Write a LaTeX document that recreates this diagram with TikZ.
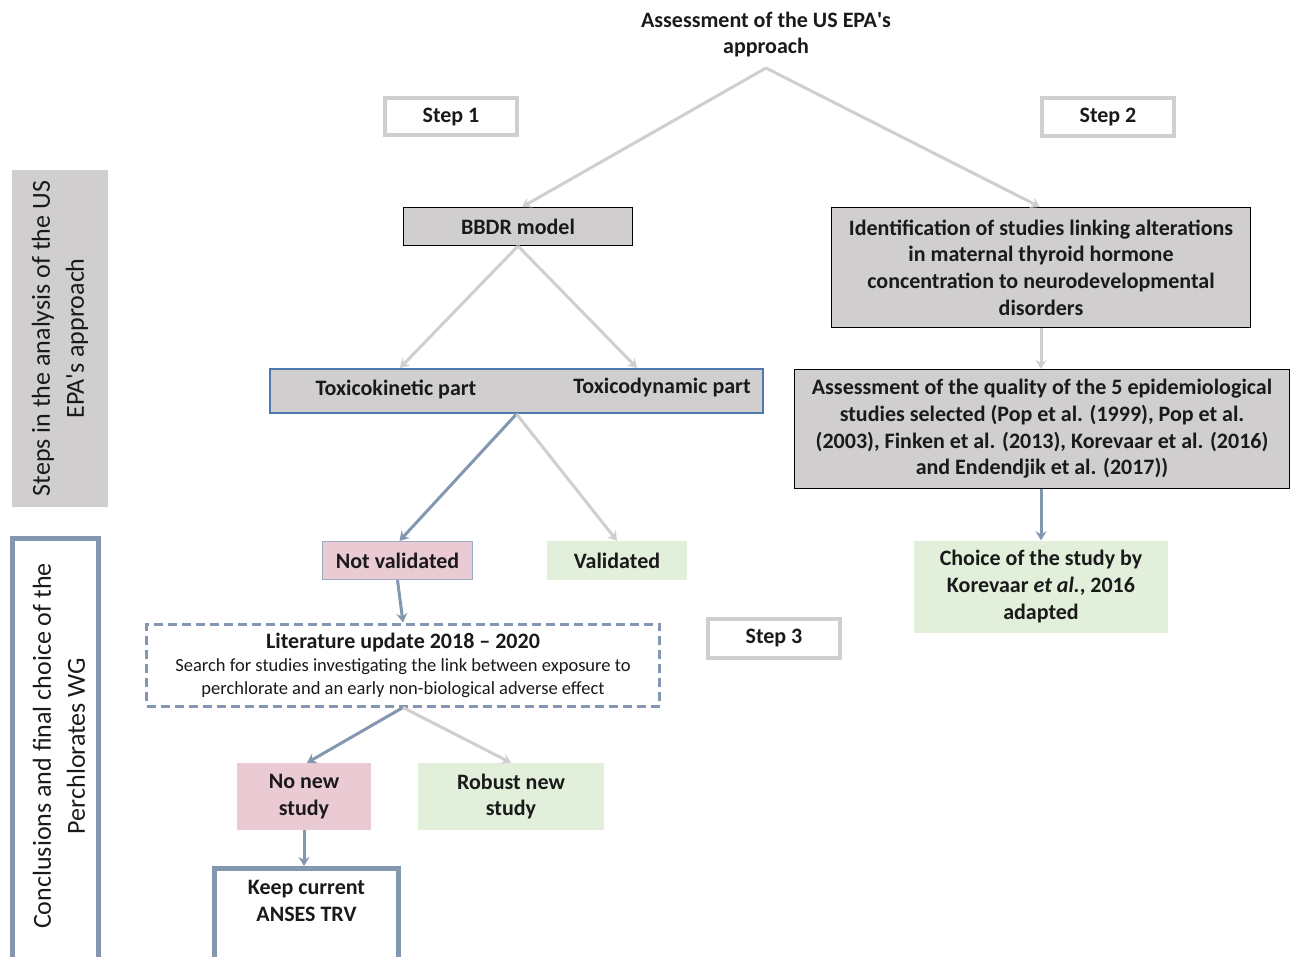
\documentclass[tikz,border=0pt]{standalone}
\usepackage{fontspec}
\setmainfont{Carlito}
\usetikzlibrary{arrows.meta,calc}
\definecolor{lgray}{HTML}{D0CECE}
\definecolor{bgray}{HTML}{8497B0}
\definecolor{tblue}{HTML}{4F79AD}
\definecolor{pinkf}{HTML}{EBCBD3}
\definecolor{greenf}{HTML}{E2EFDA}
\definecolor{txt}{HTML}{1A1A1A}
\newcommand{\smalltxt}{\fontsize{18.5}{23}\selectfont\mdseries}
\newcommand{\apos}{\textquotesingle}
\tikzset{
  base/.style={inner sep=0pt, align=center, text=txt, font=\fontsize{22}{26.6}\selectfont\bfseries},
  stepbox/.style={base, draw=lgray, line width=4pt, fill=white},
  graybox/.style={base, draw=black, line width=1pt, fill=lgray},
  pinkbox/.style={base, fill=pinkf},
  greenbox/.style={base, fill=greenf},
  garrow/.style={draw=lgray, line width=3pt, -{Stealth[length=9pt,width=11pt,inset=3pt]}},
  barrow/.style={draw=bgray, line width=3pt, -{Stealth[length=9pt,width=11pt,inset=3pt]}},
  sidetext/.style={inner sep=0pt, align=center, text=txt, font=\fontsize{26}{34}\selectfont},
}
\begin{document}
\begin{tikzpicture}[x=1pt,y=-1pt]
\useasboundingbox (0,0) rectangle (1296,957);
\clip (0,0) rectangle (1296,957);
% title
\node[base] (title) at (766,34.5) {Assessment of the US EPA\apos s\\approach};
\coordinate (apex) at (766,68);
% step labels
\node[stepbox, minimum width=132pt, minimum height=37pt] (step1) at (451,117) {Step 1};
\node[stepbox, minimum width=132pt, minimum height=38pt] (step2) at (1108,117.5) {Step 2};
\node[stepbox, minimum width=132pt, minimum height=39pt] (step3) at (774,638) {Step 3};
% side panels
\node[sidetext, rotate=90, fill=lgray, minimum width=337pt, minimum height=96pt] (sideA) at (60,338.5) {Steps in the analysis of the US\\EPA\apos s approach};
\draw[draw=bgray, line width=5pt] (12.5,538.5) rectangle (98.5,1000);
\node[sidetext, rotate=90] (sideB) at (59,746) {Conclusions and final choice of the\\Perchlorates WG};
% main boxes
\node[graybox, minimum width=229pt, minimum height=38pt] (bbdr) at (518,226.5) {BBDR model};
\node[graybox, minimum width=419pt, minimum height=120pt] (ident) at (1041,267.5) {Identification of studies linking alterations\\in maternal thyroid hormone\\concentration to neurodevelopmental\\disorders};
\node[graybox, draw=tblue, line width=2pt, minimum width=493pt, minimum height=44pt] (tox) at (516.5,391) {};
\node[base] (tk) at (396,389) {Toxicokinetic part};
\node[base] (td) at (662,388) {Toxicodynamic part};
\node[graybox, minimum width=495pt, minimum height=119pt] (assess) at (1042,429) {Assessment of the quality of the 5 epidemiological\\studies selected (Pop et al. (1999), Pop et al.\\(2003), Finken et al. (2013), Korevaar et al. (2016)\\and Endendjik et al. (2017))};
\node[pinkbox, draw=bgray!80, line width=1.2pt, minimum width=150pt, minimum height=38pt] (notval) at (397.5,560.5) {Not validated};
\node[greenbox, minimum width=140pt, minimum height=39pt] (val) at (617,560.5) {Validated};
\node[greenbox, minimum width=254pt, minimum height=92pt] (choice) at (1041,586.5) {Choice of the study by\\Korevaar \textit{et al.}, 2016\\adapted};
\node[base, draw=bgray, line width=3pt, dash pattern=on 9pt off 5pt, fill=white, minimum width=513pt, minimum height=82pt] (lit) at (403,665)
  {Literature update 2018 -- 2020\\[-3pt]\smalltxt Search for studies investigating the link between exposure to\\[-4pt]\smalltxt perchlorate and an early non-biological adverse effect};
\node[pinkbox, minimum width=134pt, minimum height=67pt] (nonew) at (304,796.5) {No new\\study};
\node[greenbox, minimum width=186pt, minimum height=67pt] (robust) at (511,796.5) {Robust new\\study};
\node[base, draw=bgray, line width=5pt, anchor=north, inner xsep=2pt, inner ysep=12pt] (keep) at (306.5,866)
  {\parbox[t][110pt][t]{180pt}{\centering Keep current\\ANSES TRV}};
% connectors
\draw[garrow] (apex) -- ([xshift=4pt]bbdr.north);
\draw[garrow] (apex) -- ([xshift=-1pt]ident.north);
\draw[garrow] (bbdr.south) -- ([xshift=-116.5pt]tox.north);
\draw[garrow] (bbdr.south) -- ([xshift=120.5pt]tox.north);
\draw[garrow] (ident.south) -- (assess.north -| ident.south);
\draw[barrow] (tox.south) -- ([xshift=2pt]notval.north);
\draw[garrow] (tox.south) -- (val.north);
\draw[barrow] (assess.south -| choice.north) -- (choice.north);
\draw[barrow] (notval.south) -- (lit.north);
\draw[barrow] (lit.south) -- ([xshift=3pt]nonew.north);
\draw[garrow] (lit.south) -- (robust.north);
\draw[barrow] (nonew.south) -- (keep.north -| nonew.south);
\end{tikzpicture}
\end{document}
